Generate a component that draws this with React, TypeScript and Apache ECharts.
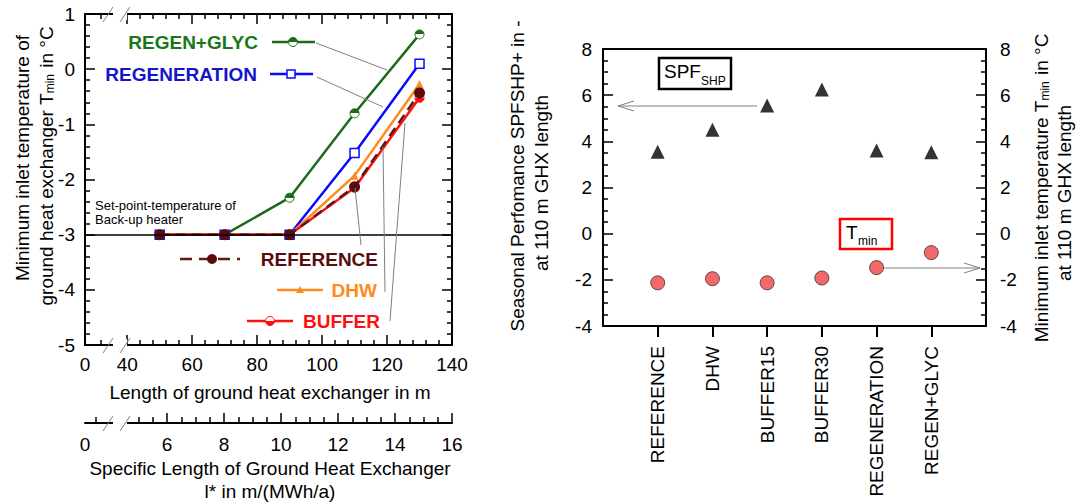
import React, { useEffect, useRef } from "react";
import * as echarts from "echarts";

// ---------- data ----------
const lengthM = [50, 70, 90, 110, 130];
const regenGlyc = [-3, -3, -2.33, -0.8, 0.63];
const regeneration = [-3, -3, -3, -1.52, 0.1];
const dhw = [-3, -3, -3, -1.93, -0.27];
const buffer = [-3, -3, -3, -2.15, -0.52];
const reference = [-3, -3, -3, -2.13, -0.43];
const setPoint = -3;

const lengthMajorTicks = [40, 60, 80, 100, 120, 140];
const lengthMinorTicks = [32, 44, 48, 52, 56, 64, 68, 72, 76, 84, 88, 92, 96, 104, 108, 112, 116, 124, 128, 132, 136];
const lengthLabels = [27, 40, 60, 80, 100, 120, 140];
const specMajorTicks = [6, 8, 10, 12, 14, 16];
const specMinorTicks = [3.5, 5, 5.5, 6.5, 7, 7.5, 8.5, 9, 9.5, 10.5, 11, 11.5, 12.5, 13, 13.5, 14.5, 15, 15.5];
const specLabels = [3.12, 6, 8, 10, 12, 14, 16];

const variants = ["REFERENCE", "DHW", "BUFFER15", "BUFFER30", "REGENERATION", "REGEN+GLYC"];
const variantPos = [1, 2, 3, 4, 5, 6];
const spf = [3.55, 4.5, 5.55, 6.25, 3.6, 3.53];
const tmin = [-2.13, -1.95, -2.13, -1.92, -1.47, -0.82];

// ---------- style ----------
const FONT = "'Liberation Sans', Arial, sans-serif";
const GREEN = "#1c6b1c";
const GREEN_T = "#187818";
const BLUE = "#0a0aff";
const BLUE_T = "#1414c8";
const ORANGE = "#ff8a1e";
const RED = "#ff1010";
const BROWN = "#5e1a0e";
const BROWN_T = "#5a0c0c";
const GREY = "#808080";

function half(top: string, bottom: string) {
  return new echarts.graphic.LinearGradient(0, 0, 0, 1, [
    { offset: 0, color: top },
    { offset: 0.5, color: top },
    { offset: 0.5, color: bottom },
    { offset: 1, color: bottom },
  ]);
}

const pts = (ys: number[]) => lengthM.map((x, i) => [x, ys[i]]);

export default function App() {
  const ref = useRef<HTMLDivElement>(null);
  useEffect(() => {
    if (!ref.current) return;
    const chart = echarts.init(ref.current, null, { renderer: "svg" });
    const axisLine = { show: true, onZero: false, lineStyle: { color: "#000", width: 2 } };
    const hiddenLine = { show: false, onZero: false };
    const lbl = { color: "#000", fontSize: 19, fontFamily: FONT };
    const noLbl = { show: false };
    const noSplit = { show: false };
    const tickStyle = { color: "#000", width: 1.5 };

    const txt = (x: number, y: number, text: string, extra: any = {}, rotation = 0) => ({
      type: "text",
      x,
      y,
      rotation,
      z: 100,
      style: {
        text,
        fontFamily: FONT,
        fontSize: 19,
        fill: "#000",
        align: "center",
        verticalAlign: "middle",
        ...extra,
      },
    });
    const ln = (x1: number, y1: number, x2: number, y2: number, stroke = GREY, lineWidth = 1, extra: any = {}) => ({
      type: "line",
      z: 100,
      shape: { x1, y1, x2, y2 },
      style: { stroke, lineWidth, ...extra },
    });
    const whiteRect = (x: number, y: number, w: number, h: number) => ({
      type: "rect",
      z: 99,
      shape: { x, y, width: w, height: h },
      style: { fill: "#fff" },
    });
    const richSub = {
      a: { fontSize: 19, fontFamily: FONT, fill: "#000", lineHeight: 22, verticalAlign: "bottom" },
      b: { fontSize: 12, fontFamily: FONT, fill: "#000", lineHeight: 22, verticalAlign: "bottom", padding: [0, 1, 0, 0] },
    };

    const option: any = {
      animation: false,
      grid: [
        { left: 85, top: 14, width: 367, height: 331 },
        { left: 85, top: 14, width: 367, height: 331 },
        { left: 603, top: 49, width: 383, height: 277 },
        { left: 85, top: 422, width: 367, height: 1 },
        { left: 85, top: 422, width: 367, height: 1 },
      ],
      xAxis: [
        {
          gridIndex: 0, type: "value", min: 27, max: 140, position: "bottom",
          axisLine, splitLine: noSplit,
          axisTick: { show: true, inside: true, length: 10, customValues: lengthMajorTicks, lineStyle: tickStyle },
          axisLabel: { ...lbl, margin: 10, customValues: lengthLabels, formatter: (v: number) => (v < 30 ? "0" : String(v)) },
        },
        {
          gridIndex: 0, type: "value", min: 27, max: 140, position: "top",
          axisLine, splitLine: noSplit, axisLabel: noLbl,
          axisTick: { show: true, inside: true, length: 10, customValues: lengthMajorTicks, lineStyle: tickStyle },
        },
        {
          gridIndex: 1, type: "value", min: 27, max: 140, position: "bottom",
          axisLine: hiddenLine, splitLine: noSplit, axisLabel: noLbl,
          axisTick: { show: true, inside: true, length: 5, customValues: lengthMinorTicks, lineStyle: tickStyle },
        },
        {
          gridIndex: 1, type: "value", min: 27, max: 140, position: "top",
          axisLine: hiddenLine, splitLine: noSplit, axisLabel: noLbl,
          axisTick: { show: true, inside: true, length: 5, customValues: lengthMinorTicks, lineStyle: tickStyle },
        },
        {
          gridIndex: 2, type: "value", min: 0, max: 7, position: "bottom",
          axisLine, splitLine: noSplit,
          axisTick: { show: true, inside: false, length: 11, customValues: variantPos, lineStyle: { color: "#000", width: 2 } },
          axisLabel: { ...lbl, rotate: 90, margin: 20, customValues: variantPos, formatter: (v: number) => variants[v - 1] ?? "" },
        },
        {
          gridIndex: 2, type: "value", min: 0, max: 7, position: "top",
          axisLine, splitLine: noSplit, axisLabel: noLbl, axisTick: { show: false },
        },
        {
          gridIndex: 3, type: "value", min: 3.12, max: 16, position: "bottom",
          axisLine, splitLine: noSplit,
          axisTick: { show: true, inside: true, length: 10, customValues: specMajorTicks, lineStyle: tickStyle },
          axisLabel: { ...lbl, margin: 12, customValues: specLabels, formatter: (v: number) => (v < 5 ? "0" : String(v)) },
        },
        {
          gridIndex: 4, type: "value", min: 3.12, max: 16, position: "bottom",
          axisLine: hiddenLine, splitLine: noSplit, axisLabel: noLbl,
          axisTick: { show: true, inside: true, length: 6, customValues: specMinorTicks, lineStyle: tickStyle },
        },
      ],
      yAxis: [
        {
          gridIndex: 0, type: "value", min: -5, max: 1, interval: 1, position: "left",
          axisLine, splitLine: noSplit, minorSplitLine: noSplit,
          axisTick: { show: true, inside: true, length: 10, lineStyle: tickStyle },
          minorTick: { show: true, splitNumber: 5, length: 5, lineStyle: tickStyle },
          axisLabel: { ...lbl, margin: 10 },
        },
        {
          gridIndex: 0, type: "value", min: -5, max: 1, interval: 1, position: "right",
          axisLine, splitLine: noSplit, minorSplitLine: noSplit, axisLabel: noLbl,
          axisTick: { show: true, inside: true, length: 10, lineStyle: tickStyle },
          minorTick: { show: true, splitNumber: 5, length: 5, lineStyle: tickStyle },
        },
        { gridIndex: 1, type: "value", min: -5, max: 1, show: false },
        {
          gridIndex: 2, type: "value", min: -4, max: 8, interval: 2, position: "left",
          axisLine, splitLine: noSplit, minorSplitLine: noSplit,
          axisTick: { show: true, inside: true, length: 10, lineStyle: tickStyle },
          minorTick: { show: true, splitNumber: 4, length: 5, lineStyle: tickStyle },
          axisLabel: { ...lbl, margin: 11 },
        },
        {
          gridIndex: 2, type: "value", min: -4, max: 8, interval: 2, position: "right",
          axisLine, splitLine: noSplit, minorSplitLine: noSplit,
          axisTick: { show: true, inside: true, length: 10, lineStyle: tickStyle },
          minorTick: { show: true, splitNumber: 4, length: 5, lineStyle: tickStyle },
          axisLabel: { ...lbl, margin: 14 },
        },
        { gridIndex: 3, type: "value", min: 0, max: 1, show: false },
        { gridIndex: 4, type: "value", min: 0, max: 1, show: false },
      ],
      series: [
        {
          type: "line", xAxisIndex: 0, yAxisIndex: 0, data: pts(regenGlyc),
          lineStyle: { color: GREEN, width: 2.5 }, symbol: "circle", symbolSize: 9,
          itemStyle: { color: half(GREEN, "#fff"), borderColor: GREEN, borderWidth: 1 },
          markLine: {
            silent: true, symbol: "none", label: { show: false },
            lineStyle: { color: "#000", type: "solid", width: 1.5 },
            data: [{ yAxis: setPoint }],
          },
        },
        {
          type: "line", xAxisIndex: 0, yAxisIndex: 0, data: pts(regeneration),
          lineStyle: { color: BLUE, width: 2.5 }, symbol: "rect", symbolSize: 9,
          itemStyle: { color: "#fff", borderColor: BLUE, borderWidth: 1.5 },
        },
        {
          type: "line", xAxisIndex: 0, yAxisIndex: 0, data: pts(dhw),
          lineStyle: { color: ORANGE, width: 2.5 }, symbol: "triangle", symbolSize: 8,
          itemStyle: { color: ORANGE },
        },
        {
          type: "line", xAxisIndex: 0, yAxisIndex: 0, data: pts(buffer),
          lineStyle: { color: RED, width: 2.5 }, symbol: "circle", symbolSize: 9,
          itemStyle: { color: half("#fff", RED), borderColor: RED, borderWidth: 1 },
        },
        {
          type: "line", xAxisIndex: 0, yAxisIndex: 0, data: pts(reference),
          lineStyle: { color: BROWN, width: 2.5, type: [10, 6] }, symbol: "circle", symbolSize: 11,
          itemStyle: { color: BROWN_T },
        },
        {
          type: "scatter", xAxisIndex: 4, yAxisIndex: 3,
          data: variantPos.map((x, i) => [x, spf[i]]),
          symbol: "triangle", symbolSize: 14, itemStyle: { color: "#000" },
        },
        {
          type: "scatter", xAxisIndex: 4, yAxisIndex: 4,
          data: variantPos.map((x, i) => [x, tmin[i]]),
          symbol: "circle", symbolSize: 14,
          itemStyle: { color: "#f04444", borderColor: "#333", borderWidth: 1 },
        },
      ],
      graphic: [
        // axis breaks
        whiteRect(113, 339, 14, 11),
        ln(103, 353, 113, 338, GREY),
        ln(120, 353, 130, 338, GREY),
        whiteRect(113, 9, 14, 11),
        ln(103, 22, 113, 7, GREY),
        ln(120, 22, 130, 7, GREY),
        whiteRect(113, 413, 14, 14),
        ln(103, 431, 113, 416, GREY),
        ln(120, 431, 130, 416, GREY),

        // left chart titles
        txt(22, 158, "Minimum inlet temperature of", {}, Math.PI / 2),
        txt(45, 166, "{a|ground heat exchanger T}{b|min}{a| in °C}", { rich: richSub }, Math.PI / 2),
        txt(270, 392, "Length of ground heat exchanger in m"),
        txt(270, 468, "Specific Length of Ground Heat Exchanger"),
        txt(270, 491, "l* in m/(MWh/a)"),
        txt(95, 205, "Set-point-temperature of", { fontSize: 13, align: "left" }),
        txt(95, 219, "Back-up heater", { fontSize: 13, align: "left" }),

        // in-plot legend
        txt(258, 42, "REGEN+GLYC", { fontWeight: "bold", fill: GREEN_T, align: "right" }),
        ln(272, 42, 315, 42, GREEN, 2.5),
        { type: "circle", z: 101, shape: { cx: 293, cy: 42, r: 4.5 }, style: { fill: half(GREEN, "#fff"), stroke: GREEN, lineWidth: 1 } },
        txt(257, 74, "REGENERATION", { fontWeight: "bold", fill: BLUE_T, align: "right" }),
        ln(270, 74, 313, 74, BLUE, 2.5),
        { type: "rect", z: 101, shape: { x: 287, y: 70, width: 8, height: 8 }, style: { fill: "#fff", stroke: BLUE, lineWidth: 1.5 } },
        txt(378, 259, "REFERENCE", { fontWeight: "bold", fill: BROWN_T, align: "right" }),
        ln(180, 259, 240, 259, BROWN, 2.5, { lineDash: [12, 7] }),
        { type: "circle", z: 101, shape: { cx: 212, cy: 259, r: 5 }, style: { fill: BROWN_T } },
        txt(377, 290, "DHW", { fontWeight: "bold", fill: ORANGE, align: "right" }),
        ln(277, 290, 323, 290, ORANGE, 2.5),
        { type: "polygon", z: 101, shape: { points: [[300, 286], [304, 293], [296, 293]] }, style: { fill: ORANGE } },
        txt(380, 321, "BUFFER", { fontWeight: "bold", fill: RED, align: "right" }),
        ln(247, 321, 293, 321, RED, 2.5),
        { type: "circle", z: 101, shape: { cx: 270, cy: 321, r: 4.5 }, style: { fill: half("#fff", RED), stroke: RED, lineWidth: 1 } },

        // leader lines
        ln(316, 43, 387, 70),
        ln(317, 77, 383, 107),
        ln(361, 245, 355, 188),
        ln(385, 292, 383, 147),
        ln(390, 321, 405, 123),

        // right chart titles
        txt(517, 176, "Seasonal Perfomance SPFSHP+ in -", {}, Math.PI / 2),
        txt(541, 183, "at 110 m GHX length", {}, Math.PI / 2),
        txt(1040, 188, "{a|Minimum inlet temperature T}{b|min}{a| in °C}", { rich: richSub }, Math.PI / 2),
        txt(1064, 193, "at 110 m GHX length", {}, Math.PI / 2),

        // SPF box + arrow
        { type: "rect", z: 100, shape: { x: 659, y: 58, width: 72, height: 31 }, style: { fill: "#fff", stroke: "#000", lineWidth: 2.5 } },
        txt(664, 71, "SPF", { align: "left" }),
        txt(701, 81, "SHP", { align: "left", fontSize: 12 }),
        ln(757, 106, 618, 106),
        ln(618, 106, 634, 101),
        ln(618, 106, 634, 111),

        // Tmin box + arrow
        { type: "rect", z: 100, shape: { x: 840, y: 219, width: 52, height: 30 }, style: { fill: "#fff", stroke: "#ff0000", lineWidth: 2.5 } },
        txt(846, 232, "T", { align: "left" }),
        txt(858, 241, "min", { align: "left", fontSize: 12 }),
        ln(884, 268, 980, 268),
        ln(980, 268, 964, 263),
        ln(980, 268, 964, 273),
      ],
    };
    chart.setOption(option);
    return () => chart.dispose();
  }, []);
  return <div ref={ref} style={{ position: "absolute", left: 0, top: 0, width: 1077, height: 502 }} />;
}
